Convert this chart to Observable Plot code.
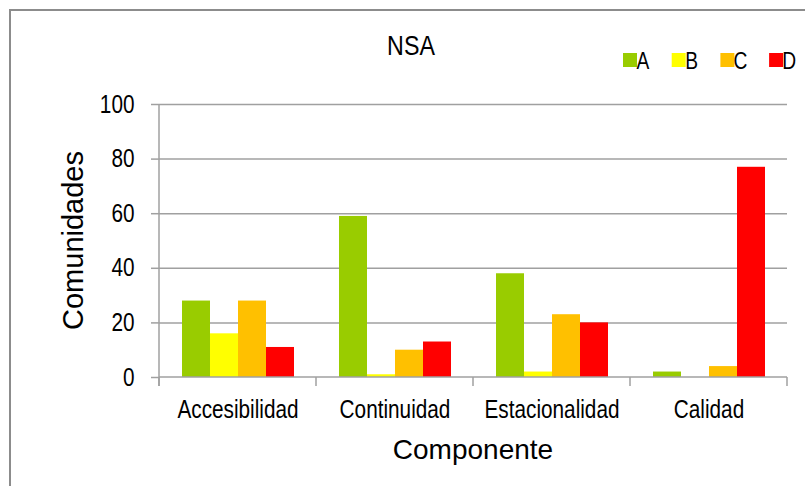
<!DOCTYPE html>
<html>
<head>
<meta charset="utf-8">
<script src="https://cdn.jsdelivr.net/npm/d3@7"></script>
<script src="https://cdn.jsdelivr.net/npm/@observablehq/plot@0.6"></script>
<style>
  html, body { margin: 0; padding: 0; background: #fff; }
  #chart { position: relative; width: 805px; height: 486px; overflow: hidden; }
  #chart svg { display: block; }
</style>
</head>
<body>
<div id="chart"></div>
<script>
const categories = ["Accesibilidad", "Continuidad", "Estacionalidad", "Calidad"];
const series = ["A", "B", "C", "D"];
const valuesA = [28, 59, 38, 2];
const valuesB = [16, 1, 2, 0];
const valuesC = [28, 10, 23, 4];
const valuesD = [11, 13, 20, 77];
const colors = ["#99cc00", "#ffff00", "#ffc000", "#ff0000"];
const yTicks = [0, 20, 40, 60, 80, 100];
const titleText = "NSA";
const xTitle = "Componente";
const yTitle = "Comunidades";

const seriesValues = { A: valuesA, B: valuesB, C: valuesC, D: valuesD };
const data = categories.flatMap((c, i) =>
  series.map(s => ({ category: c, series: s, value: seriesValues[s][i] }))
);

const font = "'Liberation Sans', Arial, sans-serif";
const axisGray = "#a0a0a0";
const squeeze = 0.83;

const chart = Plot.plot({
  width: 805,
  height: 486,
  marginLeft: 157,
  marginRight: 17,
  marginTop: 104,
  marginBottom: 109,
  style: { background: "transparent", fontFamily: font, overflow: "visible" },
  fx: { domain: categories, padding: 0, label: null },
  x: { domain: series, paddingInner: 0, paddingOuter: 0.74, axis: null },
  y: { domain: [0, 100], ticks: yTicks, label: null },
  color: { domain: series, range: colors },
  marks: [
    Plot.gridY(yTicks.slice(1), { stroke: axisGray, strokeOpacity: 1, strokeWidth: 1.5 }),
    Plot.barY(data, { fx: "category", x: "series", y: "value", fill: "series" }),
    Plot.axisY(yTicks, { tickSize: 8, tickPadding: 17, fontSize: 25, label: null, stroke: axisGray, strokeWidth: 1.5, fill: "#000" }),
    Plot.axisFx({ anchor: "bottom", tickSize: 0, tickPadding: 23, fontSize: 25, label: null, fill: "#000" })
  ]
});

document.getElementById("chart").appendChild(chart);

const svg = d3.select(chart);

function narrowText(sel, k = squeeze) {
  sel.each(function () {
    const w = this.getComputedTextLength();
    d3.select(this).attr("textLength", w * k).attr("lengthAdjust", "spacingAndGlyphs");
  });
  return sel;
}

// condensed look for tick labels
narrowText(svg.selectAll("[aria-label='y-axis tick label'] text, [aria-label='fx-axis tick label'] text"));

const fx = chart.scale("fx");
const ys = chart.scale("y");
const yApply = ys.apply ? ys.apply : d3.scaleLinear(ys.domain, ys.range);
const fxBand = fx.apply ? fx.apply : d3.scaleBand(fx.domain, fx.range).padding(0);
const bw = fx.bandwidth != null ? fx.bandwidth : d3.scaleBand(fx.domain, fx.range).bandwidth();
const y0 = yApply(0), y100 = yApply(100);
const left = fxBand(categories[0]);
const right = fxBand(categories[categories.length - 1]) + bw;

const g = svg.append("g").attr("stroke", axisGray).attr("stroke-width", 1.5).attr("fill", "none");
g.append("line").attr("x1", left).attr("x2", right).attr("y1", y0).attr("y2", y0);
g.append("line").attr("x1", left).attr("x2", left).attr("y1", y100).attr("y2", y0 + 9);
categories.map(c => fxBand(c)).concat([right]).forEach(x => {
  g.append("line").attr("x1", x).attr("x2", x).attr("y1", y0).attr("y2", y0 + 9);
});

// border
svg.append("rect").attr("x", 10).attr("y", 10).attr("width", 900).attr("height", 600)
  .attr("fill", "none").attr("stroke", "#8c8c8c").attr("stroke-width", 2);

// title
narrowText(svg.append("text").attr("x", 411).attr("y", 55).attr("text-anchor", "middle")
  .attr("font-family", font).attr("font-size", 28).attr("fill", "#000").text(titleText));

// axis titles
svg.append("text").attr("x", (left + right) / 2).attr("y", 459).attr("text-anchor", "middle")
  .attr("font-family", font).attr("font-size", 28).attr("fill", "#000").text(xTitle);
svg.append("text").attr("transform", `translate(83,${(y0 + y100) / 2}) rotate(-90)`).attr("text-anchor", "middle")
  .attr("font-family", font).attr("font-size", 29).attr("fill", "#000").text(yTitle);

// legend
const color = chart.scale("color");
const lg = svg.append("g");
series.forEach((s, i) => {
  const x = 623 + i * 48.7;
  lg.append("rect").attr("x", x).attr("y", 53).attr("width", 14).attr("height", 14).attr("fill", color.range[i]);
  narrowText(lg.append("text").attr("x", x + 20).attr("y", 68.5).attr("font-family", font).attr("font-size", 24)
    .attr("fill", "#000").text(s), 0.8);
});
</script>
</body>
</html>
